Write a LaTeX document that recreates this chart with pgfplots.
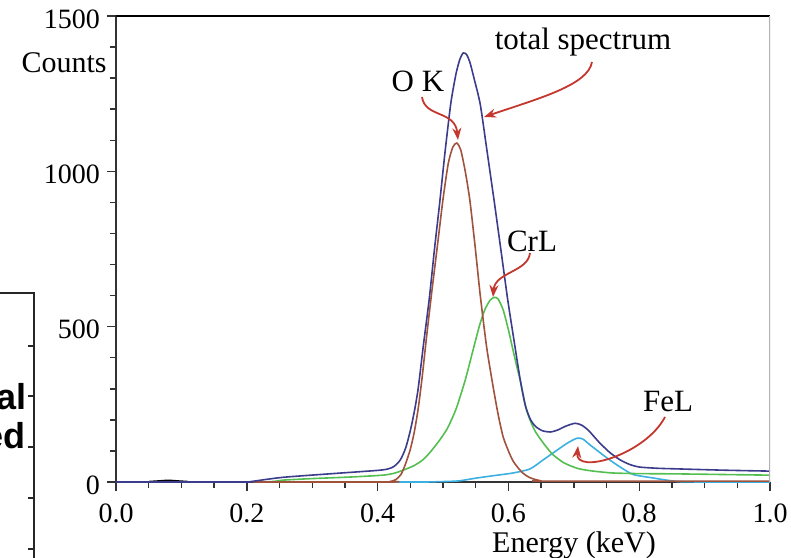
\documentclass[border=0pt]{standalone}
\usepackage{pgfplots}
\pgfplotsset{compat=1.18}
\usepackage{fontspec}
\setmainfont{Liberation Serif}
\newfontfamily\arialfont{Liberation Sans}
\usetikzlibrary{arrows.meta}
\definecolor{totc}{RGB}{60,60,140}
\definecolor{okc}{RGB}{160,82,60}
\definecolor{crc}{RGB}{85,190,80}
\definecolor{fec}{RGB}{60,176,224}
\definecolor{arr}{RGB}{195,55,45}
\begin{document}
\begin{tikzpicture}
\begin{scope}[x=0.5pt,y=-0.5pt,shift={(-58pt,241pt)}]
\path[use as bounding box] (0,0) rectangle (791,557);
\end{scope}
\clip (-58pt,241pt) rectangle (337.5pt,-37.5pt);
\begin{axis}[
  at={(0,0)}, anchor=south west,
  scale only axis, width=327pt, height=233pt,
  xmin=0, xmax=1, ymin=0, ymax=1500,
  axis x line*=bottom, axis y line*=left,
  axis line style={-, line width=0.8pt, black!80},
  xtick={0,0.2,0.4,0.6,0.8,1}, minor x tick num=3,
  ytick={0,500,1000,1500}, minor y tick num=4,
  tick align=outside,
  major tick length=4.5pt, minor tick length=2.8pt,
  tick style={black!80, line width=0.7pt},
  /pgf/number format/assume math mode=true,
  x tick label style={yshift=-3pt, /pgf/number format/.cd, fixed, fixed zerofill, precision=1},
  y tick label style={yshift=-1.5pt, /pgf/number format/1000 sep={}},
  ticklabel style={font=\fontsize{14}{16}\selectfont},
  every axis plot/.append style={smooth, tension=0.4, line width=0.8pt},
]
\addplot[black, line width=1.2pt] coordinates {(0.05,0)(0.065,2)(0.08,4)(0.095,2)(0.11,0)};
\addplot[fec] coordinates {
(0,0) (0.45,0) (0.49,1) (0.51,2) (0.526,4) (0.552,13) (0.583,22) (0.607,29) (0.633,42) (0.653,71) (0.668,93) (0.69,125) (0.705,141) (0.714,138) (0.725,119) (0.751,77) (0.771,48) (0.791,24) (0.821,13) (0.842,6) (0.862,1) (0.9,0) (1,0)};
\addplot[crc] coordinates {
(0,0) (0.22,0) (0.255,6) (0.3,11) (0.358,16) (0.408,22) (0.425,28) (0.439,38) (0.455,52) (0.469,71) (0.48,95) (0.495,135) (0.506,170) (0.514,205) (0.521,241) (0.534,328) (0.546,425) (0.556,505) (0.564,555) (0.572,585) (0.578,594) (0.584,590) (0.592,554) (0.6,490) (0.607,425) (0.613,370) (0.618,328) (0.623,275) (0.628,230) (0.634,195) (0.641,163) (0.65,135) (0.659,110) (0.668,88) (0.683,64) (0.695,52) (0.709,42) (0.73,35) (0.76,29) (0.8,27) (0.862,26) (1,22)};
\addplot[okc] coordinates {
(0,0) (0.41,0) (0.42,2) (0.428,8) (0.436,25) (0.443,60) (0.45,105) (0.456,160) (0.462,235) (0.468,335) (0.475,470) (0.483,615) (0.492,770) (0.5,910) (0.508,1025) (0.515,1078) (0.521,1091) (0.527,1070) (0.534,1000) (0.541,908) (0.549,760) (0.557,600) (0.567,430) (0.578,290) (0.585,210) (0.592,145) (0.6,100) (0.607,68) (0.615,45) (0.622,29) (0.63,17) (0.638,10) (0.647,5) (0.656,3) (1,3)};
\addplot[totc] coordinates {
(0,0) (0.2,0) (0.205,1) (0.255,15) (0.338,28) (0.408,39) (0.425,50) (0.435,72) (0.443,110) (0.45,165) (0.456,225) (0.462,300) (0.47,440) (0.479,590) (0.487,750) (0.495,900) (0.503,1060) (0.512,1220) (0.52,1315) (0.526,1362) (0.531,1381) (0.536,1376) (0.541,1352) (0.548,1295) (0.557,1215) (0.567,1070) (0.578,908) (0.589,740) (0.599,586) (0.609,450) (0.618,330) (0.626,245) (0.634,200) (0.642,178) (0.652,165) (0.664,161) (0.675,167) (0.688,180) (0.702,189) (0.712,183) (0.722,167) (0.731,146) (0.74,125) (0.755,95) (0.771,71) (0.786,56) (0.801,48) (0.83,44) (0.862,42) (0.93,38) (1.0,35)};
\draw[black, line width=0.8pt] (rel axis cs:0,1) -- (rel axis cs:1,1);
\draw[black!30, line width=1.5pt] (rel axis cs:1,0) -- (rel axis cs:1,1);
\end{axis}
\begin{scope}[x=0.5pt,y=-0.5pt,shift={(-58pt,241pt)}]
\node[font=\fontsize{15.5}{18}\selectfont] at (583,42) {total spectrum};
\node[font=\fontsize{15.5}{18}\selectfont] at (418,81) {O K};
\node[font=\fontsize{15.5}{18}\selectfont] at (532,241) {CrL};
\node[font=\fontsize{15.5}{18}\selectfont] at (668,402) {FeL};
\node[font=\fontsize{15}{18}\selectfont, anchor=east, inner sep=0pt] at (107,63) {Counts};
\node[font=\fontsize{15}{18}\selectfont] at (574,545) {Energy (keV)};
\draw[arr, line width=0.9pt, -{Stealth[length=6pt,width=4.5pt]}] (592,62) .. controls (588,85) and (540,98) .. (484,117);
\draw[arr, line width=0.9pt, -{Stealth[length=6pt,width=4.5pt]}] (422,97) .. controls (425,118) and (455,110) .. (458,140);
\draw[arr, line width=0.9pt, -{Stealth[length=6pt,width=4.5pt]}] (530,253) .. controls (528,272) and (495,272) .. (493,297);
\draw[arr, line width=0.9pt, -{Stealth[length=6pt,width=4.5pt]}] (665,417) .. controls (645,455) and (575,475) .. (578,446);
% fragment of neighbouring figure
\draw[black!85, line width=1pt] (0,293) -- (34,293) -- (34,560);
\foreach \t in {346,396,447,498,549} \draw[black!85, line width=0.8pt] (28,\t) -- (34,\t);
\node[font=\arialfont\bfseries\fontsize{18}{20}\selectfont, anchor=east, inner sep=0pt] at (27,397) {al};
\node[font=\arialfont\bfseries\fontsize{18}{20}\selectfont, anchor=east, inner sep=0pt] at (26,436) {ed};
\end{scope}
\end{tikzpicture}
\end{document}
